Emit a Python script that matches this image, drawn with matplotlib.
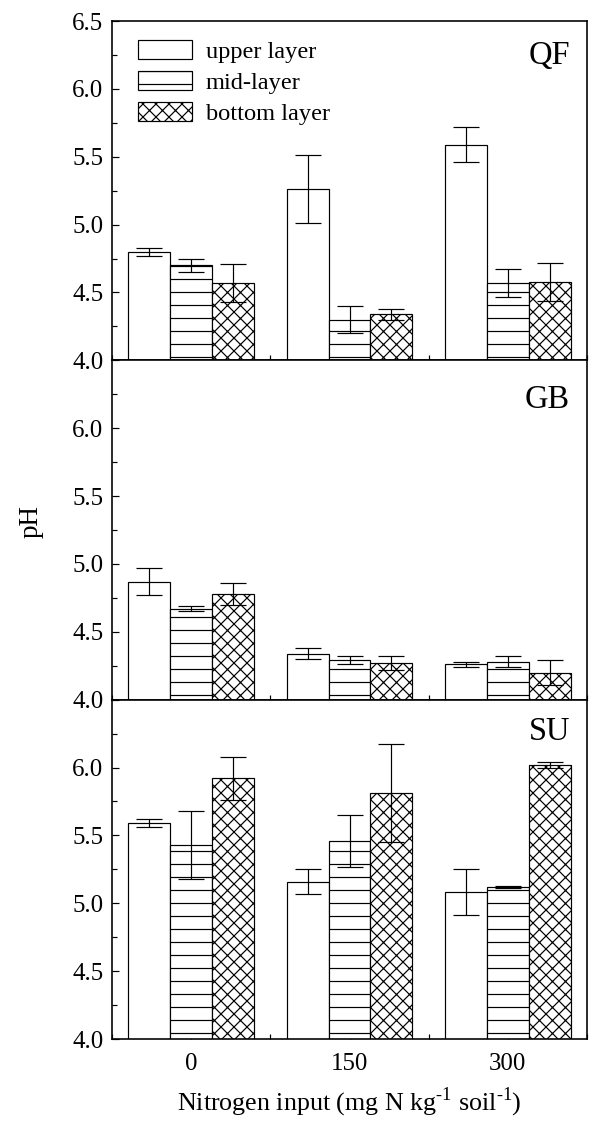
import numpy as np
import matplotlib
matplotlib.use('Agg')
import matplotlib.pyplot as plt
from matplotlib.patches import Patch
from matplotlib.ticker import MultipleLocator

# data
n_input = ['0', '150', '300']
layers = ['upper layer', 'mid-layer', 'bottom layer']
hatches = ['', '-', 'xx']
sites = ['QF', 'GB', 'SU']

qf_mean = [[4.80, 5.26, 5.59], [4.70, 4.30, 4.57], [4.57, 4.34, 4.58]]
qf_err = [[0.03, 0.25, 0.13], [0.05, 0.10, 0.10], [0.14, 0.04, 0.14]]
gb_mean = [[4.87, 4.34, 4.26], [4.67, 4.29, 4.28], [4.78, 4.27, 4.20]]
gb_err = [[0.10, 0.04, 0.02], [0.02, 0.03, 0.04], [0.08, 0.05, 0.09]]
su_mean = [[5.59, 5.16, 5.08], [5.43, 5.46, 5.12], [5.92, 5.81, 6.02]]
su_err = [[0.03, 0.09, 0.17], [0.25, 0.19, 0.005], [0.16, 0.36, 0.02]]

means = [qf_mean, gb_mean, su_mean]
errs = [qf_err, gb_err, su_err]
label_pos = [0.898, 0.883, 0.905]

plt.rcParams['font.family'] = 'Liberation Serif'
plt.rcParams['mathtext.fontset'] = 'custom'
plt.rcParams['mathtext.rm'] = 'Liberation Serif'
plt.rcParams['hatch.linewidth'] = 1.1
plt.rcParams['hatch.color'] = 'black'

DPI = 78
fig, axes = plt.subplots(3, 1, sharex=True, figsize=(591 / DPI, 1122 / DPI), dpi=DPI)
plt.subplots_adjust(left=112 / 591, right=587 / 591, top=1 - 21 / 1122,
                    bottom=1 - 1039 / 1122, hspace=0)

x = np.arange(len(n_input))
w = 0.265
yt = [4.0, 4.5, 5.0, 5.5, 6.0, 6.5]

for i, ax in enumerate(axes):
    for j in range(3):
        ax.bar(x + (j - 1) * w, means[i][j], width=w, color='white', edgecolor='black',
               linewidth=1.1, hatch=hatches[j], zorder=2)
        ax.errorbar(x + (j - 1) * w, means[i][j], yerr=errs[i][j], fmt='none',
                    ecolor='black', elinewidth=1.1, capsize=12, capthick=1.1, zorder=3)
    ax.set_ylim(4.0, 6.5)
    ax.set_xlim(-0.5, 2.5)
    labels = ['%.1f' % t for t in yt]
    if i > 0:
        labels[-1] = ''
    ax.set_yticks(yt, labels)
    ax.yaxis.set_minor_locator(MultipleLocator(0.25))
    ax.xaxis.set_minor_locator(MultipleLocator(0.5))
    ax.tick_params(which='both', direction='in', top=False, right=False,
                   labelsize=23, width=1.1)
    ax.tick_params(which='major', length=6.5)
    ax.tick_params(which='minor', length=4.5)
    ax.tick_params(axis='y', pad=8)
    ax.tick_params(axis='x', pad=13)
    for s in ax.spines.values():
        s.set_linewidth(1.5)
    ax.text(0.964, label_pos[i], sites[i], transform=ax.transAxes, ha='right',
            va='center', fontsize=30)

axes[-1].set_xticks(x, n_input)
axes[-1].set_xlabel('Nitrogen input (mg N kg$^{\\mathregular{\u2010}1}$ soil$^{\\mathregular{\u2010}1}$)',
                    fontsize=24, labelpad=10)

handles = [Patch(facecolor='white', edgecolor='black', hatch=h, linewidth=1.1) for h in hatches]
axes[0].legend(handles, layers, loc='upper left', bbox_to_anchor=(0.055, 0.944),
               frameon=False, fontsize=22.5, handlelength=2.2, handleheight=0.82,
               handletextpad=0.57, labelspacing=0.33, borderpad=0, borderaxespad=0)

fig.text(31 / 591, 1 - 521 / 1122, 'pH', rotation=90, ha='center', va='center', fontsize=25)

plt.savefig('out.png', dpi=DPI)
